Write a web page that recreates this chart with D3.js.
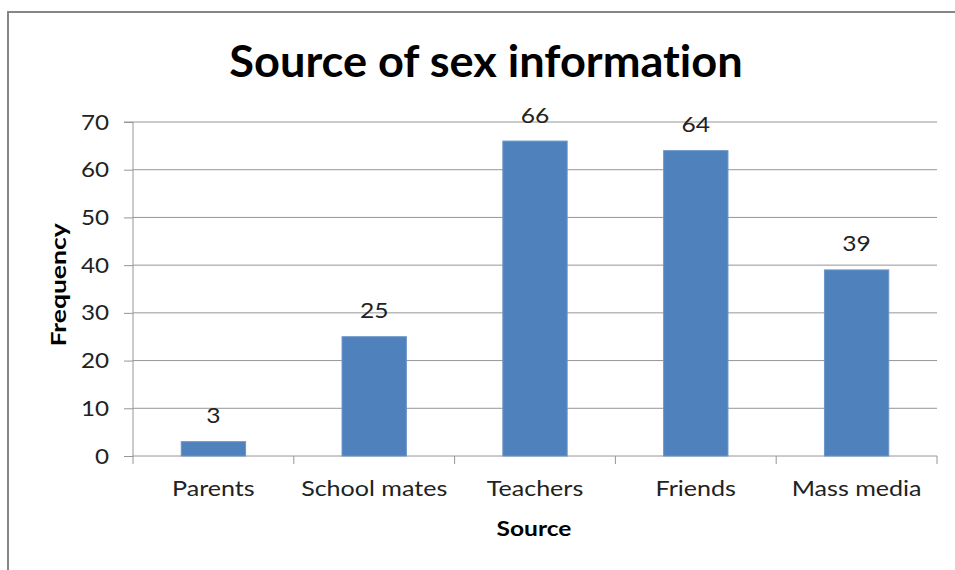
<!DOCTYPE html>
<html><head><meta charset="utf-8">
<script src="https://cdn.jsdelivr.net/npm/d3@7"></script>
<style>body{margin:0;background:#fff;} svg{display:block;} text{font-family:Lato,"Open Sans",sans-serif;font-variant-ligatures:none;font-feature-settings:"liga" 0;}</style>
</head><body>
<svg id="c" width="955" height="570"></svg>
<script>
const categories = ["Parents", "School mates", "Teachers", "Friends", "Mass media"];
const values = [3, 25, 66, 64, 39];
const yTicks = [0, 10, 20, 30, 40, 50, 60, 70];
const title = "Source of sex information";
const xTitle = "Source";
const yTitle = "Frequency";

const svg = d3.select("#c");
const m = {left: 133, right: 937, top: 122, bottom: 456};

svg.append("rect").attr("x", 8).attr("y", 12).attr("width", 960).attr("height", 580)
  .attr("fill", "#fff").attr("stroke", "#868686").attr("stroke-width", 2);

const x = d3.scaleBand().domain(categories).range([m.left, m.right]).paddingInner(0.6).paddingOuter(0.3);
const y = d3.scaleLinear().domain([0, 70]).range([m.bottom, m.top]);

// gridlines
svg.append("g").selectAll("line").data(yTicks.filter(d => d > 0)).join("line")
  .attr("x1", m.left).attr("x2", m.right)
  .attr("y1", d => y(d)).attr("y2", d => y(d))
  .attr("stroke", "#969696").attr("stroke-width", 1);

// y axis
const yAxis = svg.append("g").attr("transform", `translate(${m.left},0)`)
  .call(d3.axisLeft(y).tickValues(yTicks).tickSize(9).tickPadding(0).tickFormat(""));
yAxis.select(".domain").attr("stroke", "#969696").attr("d", `M-9,${m.top}H0V${m.bottom}`);
yAxis.selectAll(".tick line").attr("stroke", "#969696");
svg.append("g").selectAll("text").data(yTicks).join("text")
  .attr("transform", d => `translate(109,${y(d) + 7.5}) scale(1.1,1)`)
  .attr("text-anchor", "end").attr("font-size", 22).attr("fill", "#222")
  .text(d => d);

// x axis
const bounds = [m.left, ...categories.map((c, i) => m.left + (i + 1) * x.step())];
svg.append("line").attr("x1", m.left).attr("x2", m.right).attr("y1", m.bottom).attr("y2", m.bottom)
  .attr("stroke", "#969696");
svg.append("g").selectAll("line").data(bounds).join("line")
  .attr("x1", d => d).attr("x2", d => d).attr("y1", m.bottom).attr("y2", m.bottom + 8)
  .attr("stroke", "#969696");
svg.append("g").selectAll("text").data(categories).join("text")
  .attr("transform", d => `translate(${x(d) + x.bandwidth() / 2},496) scale(1.14,1)`)
  .attr("text-anchor", "middle").attr("font-size", 22).attr("fill", "#222")
  .text(d => d);

// bars
svg.append("g").selectAll("rect").data(values).join("rect")
  .attr("x", (d, i) => x(categories[i])).attr("width", x.bandwidth())
  .attr("y", d => y(d)).attr("height", d => y(0) - y(d))
  .attr("fill", "#4F81BD").attr("stroke", "#6a95c9").attr("stroke-width", 1);

// value labels
svg.append("g").selectAll("text").data(values).join("text")
  .attr("transform", (d, i) => `translate(${x(categories[i]) + x.bandwidth() / 2},${y(d) - 18.5}) scale(1.12,1)`)
  .attr("text-anchor", "middle").attr("font-size", 22).attr("fill", "#222")
  .text(d => d);

// titles
svg.append("text").attr("transform", "translate(486,77) scale(1.05,1)").attr("text-anchor", "middle")
  .attr("font-size", 43).attr("font-weight", "bold").attr("fill", "#000").text(title);
svg.append("text").attr("transform", "translate(534,536) scale(1.17,1)").attr("text-anchor", "middle")
  .attr("font-size", 21).attr("font-weight", "bold").attr("fill", "#000").text(xTitle);
svg.append("text").attr("transform", "translate(66,285) rotate(-90) scale(1.26,1)").attr("text-anchor", "middle")
  .attr("font-size", 21).attr("font-weight", "bold").attr("fill", "#000").text(yTitle);
</script>
</body></html>
